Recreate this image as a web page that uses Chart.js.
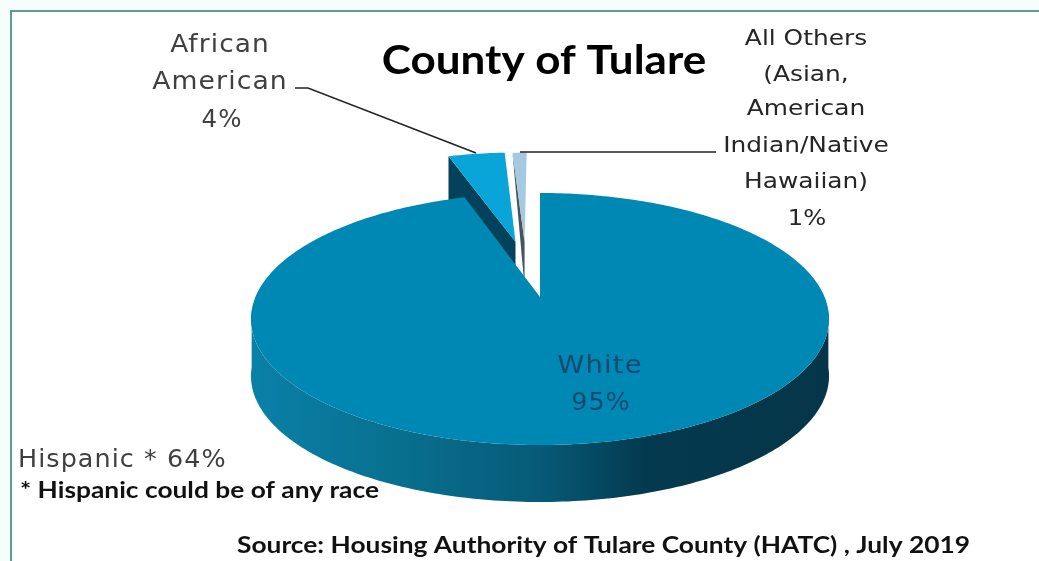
<!DOCTYPE html>
<html>
<head>
<meta charset="utf-8">
<title>County of Tulare</title>
<script src="https://cdn.jsdelivr.net/npm/chart.js"></script>
<style>
  html, body { margin: 0; padding: 0; background: #f6fdfd; overflow: hidden; }
  .frame {
    position: absolute;
    left: 10px;
    top: 10px;
    width: 1029px;
    height: 551px;
    background: #ffffff;
    border-top: 2px solid #5f9a9e;
    border-left: 2px solid #5f9a9e;
  }
  canvas { position: absolute; left: 0; top: 0; }
</style>
</head>
<body>
<div class="frame"></div>
<canvas id="pie" width="1039" height="561"></canvas>
<script>
// race shares, in percent
const categories = ['White', 'African American', 'All Others (Asian, American Indian/Native Hawaiian)'];
const shares = [95, 4, 1];
const sliceColors = ['#0088b5', '#0aa5d8', '#a6c9e2'];
const cutFaceColors = ['#07526d', '#04415a', '#46525e'];

// how far each slice is pulled out of the pie, in disc units
const pullOut = [[0, 0], [-0.0935, -0.491], [-0.059, -0.49]];
const wallDepth = [57, 45, 45];

const titleText = 'County of Tulare';
const hispanicNote = 'Hispanic * 64%';
const raceNote = '* Hispanic could be of any race';
const sourceNote = 'Source: Housing Authority of Tulare County (HATC) , July 2019';
const africanLines = ['African', 'American'];
const othersLines = ['All Others', '(Asian,', 'American', 'Indian/Native', 'Hawaiian)'];

// perspective of the tilted disc: unit circle -> screen
const CX = 540, CY = 297, AX = 284.6, AY = 70.3, TILT = -0.1746;
function project(u, v) {
  const d = 1 + TILT * v;
  return [CX + AX * u / d, (CY + AY * v) / d];
}
// chart.js angles start at 3 o'clock, so cos/sin are the disc coordinates directly
function rimPoints(arc, off, minV) {
  const pts = [];
  const steps = Math.max(4, Math.ceil((arc.endAngle - arc.startAngle) * 60));
  for (let i = 0; i <= steps; i++) {
    const a = arc.startAngle + (arc.endAngle - arc.startAngle) * i / steps;
    if (minV !== undefined && Math.sin(a) < minV) continue;
    pts.push(project(Math.cos(a) + off[0], Math.sin(a) + off[1]));
  }
  return pts;
}
function trace(ctx, pts) {
  ctx.beginPath();
  pts.forEach((p, i) => i ? ctx.lineTo(p[0], p[1]) : ctx.moveTo(p[0], p[1]));
  ctx.closePath();
}

function drawSlice(ctx, arc, i) {
  const off = pullOut[i];
  const depth = wallDepth[i];
  const rim = rimPoints(arc, off);
  const tip = project(off[0], off[1]);
  const below = p => [p[0], p[1] + depth];

  if (i === 0) {
    // outer wall of the big slice, darkening towards the right
    const front = rimPoints(arc, off, 0.1);
    const g = ctx.createLinearGradient(252, 0, 830, 0);
    g.addColorStop(0, '#0a80a8');
    g.addColorStop(0.25, '#08708f');
    g.addColorStop(0.5, '#065a77');
    g.addColorStop(0.68, '#043a4f');
    g.addColorStop(1, '#053548');
    ctx.fillStyle = g;
    trace(ctx, front.concat(front.map(below).reverse()));
    ctx.fill();
  } else {
    // cut face on the left of an exploded slice
    const corner = rim[0];
    ctx.fillStyle = cutFaceColors[i];
    trace(ctx, i === 1 ? [corner, tip, below(tip), below(corner)] : [corner, tip, below(tip)]);
    ctx.fill();
  }

  ctx.fillStyle = sliceColors[i];
  trace(ctx, [tip].concat(rim));
  ctx.fill();
}

// the lettering is set a little wider than the fonts' natural width
function writeWide(ctx, text, x, y, sx) {
  ctx.save();
  ctx.translate(x, y);
  ctx.scale(sx, 1);
  ctx.fillText(text, 0, 0);
  ctx.restore();
}

const tiltedPie = {
  id: 'tiltedPie',
  beforeDatasetsDraw(chart) {
    const ctx = chart.ctx;
    const arcs = chart.getDatasetMeta(0).data;
    ctx.save();
    // back slices first, the big one sits in front of their walls
    [1, 2, 0].forEach(i => drawSlice(ctx, arcs[i], i));
    ctx.restore();
    return false;
  },
  afterDraw(chart) {
    const ctx = chart.ctx;
    ctx.save();

    // leader lines
    ctx.strokeStyle = '#222222';
    ctx.lineWidth = 1.5;
    ctx.beginPath();
    ctx.moveTo(295, 88);
    ctx.lineTo(308, 88);
    ctx.lineTo(476, 153);
    ctx.moveTo(520, 152);
    ctx.lineTo(716, 152);
    ctx.stroke();

    ctx.textBaseline = 'alphabetic';
    ctx.textAlign = 'center';

    ctx.fillStyle = '#000000';
    ctx.font = 'bold 40px Lato';
    writeWide(ctx, titleText, 544, 74, 1.1);

    ctx.fillStyle = '#404040';
    ctx.font = '24px "DejaVu Sans"';
    ctx.letterSpacing = '1px';
    writeWide(ctx, africanLines[0], 220, 52, 1.1);
    writeWide(ctx, africanLines[1], 220, 89, 1.11);
    writeWide(ctx, shares[1] + '%', 222, 127, 1.02);

    ctx.fillStyle = '#262626';
    ctx.font = '22px "DejaVu Sans"';
    ctx.letterSpacing = '0px';
    const othersY = [45, 81, 115, 152, 188];
    othersLines.forEach((line, i) => writeWide(ctx, line, 806, othersY[i], 1.13));
    writeWide(ctx, shares[2] + '%', 807, 225, 1.1);

    ctx.fillStyle = '#174a70';
    ctx.font = '25px "DejaVu Sans"';
    ctx.letterSpacing = '1px';
    writeWide(ctx, categories[0], 600, 373, 1.1);
    writeWide(ctx, shares[0] + '%', 601, 410, 1.02);

    ctx.textAlign = 'left';
    ctx.fillStyle = '#404040';
    ctx.font = '24px "DejaVu Sans"';
    writeWide(ctx, hispanicNote, 18, 467, 1.06);

    ctx.fillStyle = '#111111';
    ctx.letterSpacing = '0px';
    ctx.font = 'bold 23px Lato';
    writeWide(ctx, raceNote, 20, 498, 1.145);
    writeWide(ctx, sourceNote, 237, 553, 1.145);

    ctx.restore();
  }
};

new Chart(document.getElementById('pie'), {
  type: 'pie',
  data: {
    labels: categories,
    datasets: [{ data: shares, backgroundColor: sliceColors, borderWidth: 0 }]
  },
  options: {
    responsive: false,
    animation: false,
    rotation: 0,
    plugins: { legend: { display: false }, tooltip: { enabled: false } }
  },
  plugins: [tiltedPie]
});
</script>
</body>
</html>
